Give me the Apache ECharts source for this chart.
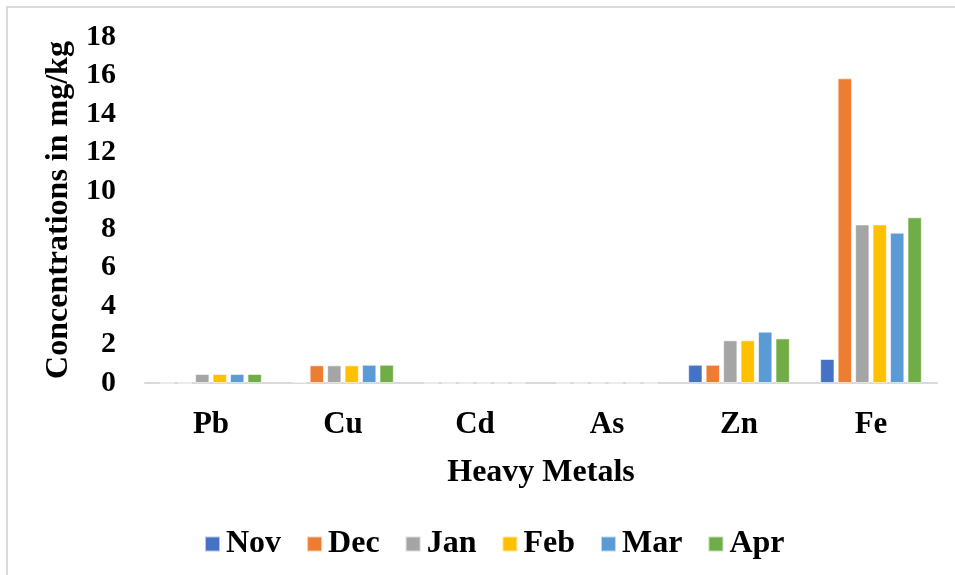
<!DOCTYPE html>
<html>
<head>
<meta charset="utf-8">
<style>
  html, body { margin: 0; padding: 0; background: #fff; }
  #chart { width: 955px; height: 575px; }
</style>
<script src="https://cdn.jsdelivr.net/npm/echarts@6/dist/echarts.min.js"></script>
</head>
<body>
<div id="chart"></div>
<script>
// Heavy metal concentrations (mg/kg) by month
const metals = ['Pb', 'Cu', 'Cd', 'As', 'Zn', 'Fe'];
const months = ['Nov', 'Dec', 'Jan', 'Feb', 'Mar', 'Apr'];
const nov = [0, 0.06, 0, 0, 0.95, 1.25];
const dec = [0, 0.92, 0, 0, 0.95, 15.85];
const jan = [0.47, 0.92, 0, 0, 2.22, 8.25];
const feb = [0.47, 0.92, 0, 0, 2.22, 8.25];
const mar = [0.47, 0.95, 0, 0, 2.67, 7.82];
const apr = [0.47, 0.95, 0, 0, 2.32, 8.62];
const yTicks = { min: 0, max: 18, interval: 2 };

const colors = ['#4472C4', '#ED7D31', '#A5A5A5', '#FFC000', '#5B9BD5', '#70AD47'];
const values = [nov, dec, jan, feb, mar, apr];
const font = '"Liberation Serif", "Times New Roman", serif';

const chart = echarts.init(document.getElementById('chart'), null, { renderer: 'canvas' });
chart.setOption({
  backgroundColor: '#fff',
  animation: false,
  color: colors,
  textStyle: { fontFamily: font },
  graphic: [{
    type: 'rect',
    shape: { x: 7, y: 7, width: 1100, height: 1100 },
    style: { fill: 'none', stroke: '#d9d9d9', lineWidth: 2 },
    silent: true
  }],
  grid: { left: 145, right: 18, top: 37, bottom: 192 },
  legend: {
    data: months,
    left: 199,
    top: 523,
    itemWidth: 15,
    itemHeight: 15,
    itemGap: 25,
    icon: 'rect',
    textStyle: { fontFamily: font, fontWeight: 'bold', fontSize: 32, color: '#000', padding: [0, 0, 0, 1] }
  },
  xAxis: {
    type: 'category',
    data: metals,
    name: 'Heavy Metals',
    nameLocation: 'middle',
    nameGap: 74,
    nameTextStyle: { fontFamily: font, fontWeight: 'bold', fontSize: 32, color: '#000' },
    axisLine: { lineStyle: { color: '#d9d9d9', width: 2 } },
    axisTick: { show: false },
    axisLabel: { fontFamily: font, fontWeight: 'bold', fontSize: 31, color: '#000', margin: 26 }
  },
  yAxis: {
    type: 'value',
    min: yTicks.min,
    max: yTicks.max,
    interval: yTicks.interval,
    name: 'Concentrations in mg/kg',
    nameLocation: 'middle',
    nameGap: 67,
    nameTextStyle: { fontFamily: font, fontWeight: 'bold', fontSize: 32, color: '#000' },
    axisLine: { show: false },
    axisTick: { show: false },
    splitLine: { show: false },
    axisLabel: { fontFamily: font, fontWeight: 'bold', fontSize: 30, color: '#000', margin: 29 }
  },
  series: months.map((m, i) => ({
    name: m,
    type: 'bar',
    data: values[i],
    barGap: '22%',
    barCategoryGap: '23%',
    itemStyle: { color: colors[i], borderColor: 'rgba(255,255,255,0.6)', borderWidth: 1 }
  }))
});
</script>
</body>
</html>
